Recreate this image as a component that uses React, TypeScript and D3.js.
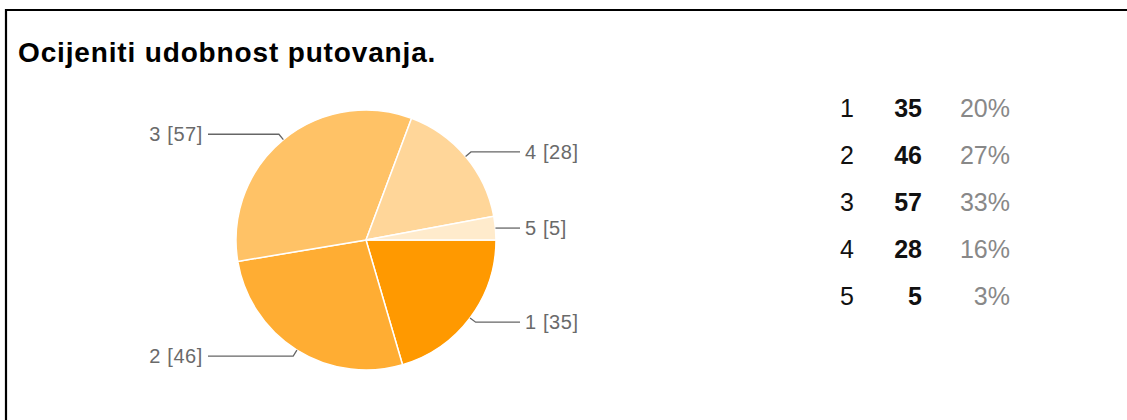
import React from "react";
import * as d3 from "d3";

const title = "Ocijeniti udobnost putovanja.";
const categories = ["1", "2", "3", "4", "5"];
const counts = [35, 46, 57, 28, 5];
const percents = ["20%", "27%", "33%", "16%", "3%"];
const colors = ["#ff9900", "#ffad33", "#ffc266", "#ffd699", "#ffebcc"];

const W = 1127;
const H = 420;
const cx = 366;
const cy = 240;
const R = 130;

export default function App() {
  const pie = d3
    .pie<number>()
    .sort(null)
    .startAngle(Math.PI / 2)
    .endAngle(Math.PI / 2 + 2 * Math.PI);
  const arcs = pie(counts);
  const arc = d3.arc<d3.PieArcDatum<number>>().innerRadius(0).outerRadius(R);

  const rowY = d3.scalePoint<string>().domain(categories).range([117, 305]);

  return (
    <svg
      width={W}
      height={H}
      style={{ position: "absolute", left: 0, top: 0, background: "#fff", display: "block" }}
      fontFamily="Arial, 'Liberation Sans', sans-serif"
    >
      <rect x={0} y={0} width={W} height={H} fill="#fff" />
      <path d={`M6,${H + 5} L6,10 L${W + 10},10`} fill="none" stroke="#000" strokeWidth={2.2} />
      <text x={18} y={62} fontSize={28} fontWeight="bold" fill="#000" letterSpacing={0.85}>
        {title}
      </text>
      <g transform={`translate(${cx},${cy})`}>
        {arcs.map((a, i) => (
          <path key={i} d={arc(a) || ""} fill={colors[i]} stroke="#fff" strokeWidth={1.5} />
        ))}
        {arcs.map((a, i) => {
          const mid = (a.startAngle + a.endAngle) / 2;
          const sx = Math.sin(mid);
          const sy = -Math.cos(mid);
          const p0 = [R * sx, R * sy];
          const k = i === 4 ? 0 : 7;
          const p1 = [(R + k) * sx, (R + k) * sy];
          const right = sx > 0;
          const endX = right ? R + 24 : -R - 28;
          const ly = i === 4 ? p0[1] : p1[1];
          const pts = i === 4 ? [p0, [endX, ly]] : [p0, p1, [endX, ly]];
          const line = d3.line()(pts as [number, number][]) || "";
          return (
            <g key={"l" + i}>
              <path d={line} fill="none" stroke="#666" strokeWidth={1.3} />
              <text
                x={right ? endX + 5 : endX - 5}
                y={ly}
                dy="0.35em"
                textAnchor={right ? "start" : "end"}
                fontSize={20}
                fill="#6a6a6a"
                letterSpacing={0.6}
              >
                {`${categories[i]} [${counts[i]}]`}
              </text>
            </g>
          );
        })}
      </g>
      <g fontSize={25}>
        {categories.map((c, i) => (
          <g key={"r" + i}>
            <text x={840} y={rowY(c)} fill="#111">
              {c}
            </text>
            <text x={922} y={rowY(c)} textAnchor="end" fontWeight="bold" fill="#111">
              {counts[i]}
            </text>
            <text x={1010} y={rowY(c)} textAnchor="end" fill="#888">
              {percents[i]}
            </text>
          </g>
        ))}
      </g>
    </svg>
  );
}
